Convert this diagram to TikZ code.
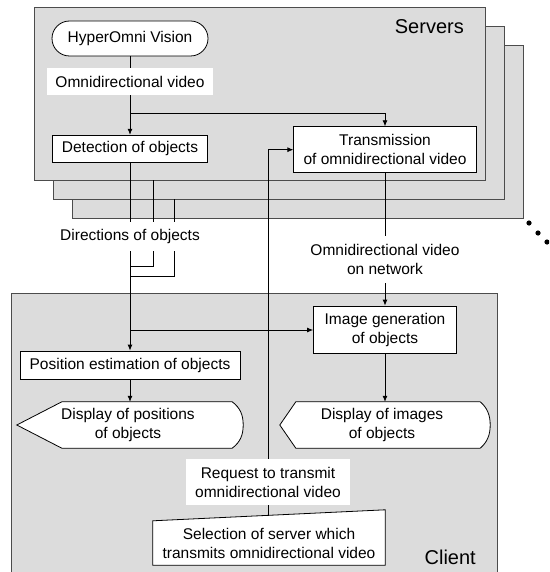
\documentclass[tikz,border=0pt]{standalone}
\usepackage{fontspec}
\setmainfont{Liberation Sans}
\usetikzlibrary{arrows.meta,calc}
\definecolor{boxgray}{RGB}{220,220,220}
\begin{document}
\begin{tikzpicture}[x=1pt,y=-1pt,
  font=\fontsize{15.5}{19}\selectfont,
  panel/.style={draw=black!70, line width=1pt, fill=boxgray},
  proc/.style={draw=black, line width=0.8pt, fill=white, inner sep=0pt, align=center},
  ghost/.style={inner sep=0pt, align=center},
  outline/.style={draw=black, line width=0.8pt, fill=white},
  lbl/.style={fill=white, inner sep=0pt, align=center},
  biglbl/.style={font=\fontsize{20}{24}\selectfont, inner sep=0pt, anchor=east},
  conn/.style={draw=black, line width=0.8pt},
  arr/.style={conn, -{Latex[length=6pt,width=5pt]}},
]
\clip (0,0) rectangle (549,572);

% panels
\path[panel] (72,46) rectangle (523,218);
\path[panel] (53,27) rectangle (504,199);
\path[panel] (34,8) rectangle (485,180);
\path[panel] (11,293) rectangle (497,600);

\node[biglbl] (servers) at (464,27) {Servers};
\node[biglbl] (client) at (476,557) {Client};

% nodes
\node[proc, rounded corners=17.5pt, minimum width=156pt, minimum height=35pt] (hov) at (130,38.5) {HyperOmni Vision};
\node[lbl, minimum width=166pt, minimum height=27pt] (ovl) at (130,81.5) {Omnidirectional video};
\node[proc, minimum width=155pt, minimum height=27pt] (det) at (130,148.7) {Detection of objects};
\node[proc, minimum width=182.5pt, minimum height=46pt] (trans) at (385,149.7) {Transmission\\of omnidirectional video};
\node[ghost, minimum width=150pt, minimum height=29pt] (dir) at (130,236.5) {Directions of objects};
\node[ghost, minimum width=170pt, minimum height=47pt] (ovn) at (385,259.5) {Omnidirectional video\\on network};
\node[proc, minimum width=143pt, minimum height=47pt] (img) at (385,329.5) {Image generation\\of objects};
\node[proc, minimum width=220pt, minimum height=28pt] (pos) at (130,365) {Position estimation of objects};

% display shapes
\node[ghost, minimum width=226pt, minimum height=46pt] (dpos) at (130,425) {};
\path[outline] (dpos.west) -- ($(dpos.north west)+(45,0)$) -- ($(dpos.north east)+(-11,0)$)
  .. controls ($(dpos.north east)+(-3,6)$) and ($(dpos.east)+(0,-10)$) .. (dpos.east)
  .. controls ($(dpos.east)+(0,10)$) and ($(dpos.south east)+(-3,-6)$) .. ($(dpos.south east)+(-11,0)$)
  -- ($(dpos.south west)+(45,0)$) -- cycle;
\node[ghost] at (128,425) {Display of positions\\of objects};

\node[ghost, minimum width=210pt, minimum height=46pt] (dimg) at (385,425) {};
\path[outline] (dimg.west) -- ($(dimg.north west)+(16,0)$) -- ($(dimg.north east)+(-10,0)$)
  .. controls ($(dimg.north east)+(-3,6)$) and ($(dimg.east)+(0,-10)$) .. (dimg.east)
  .. controls ($(dimg.east)+(0,10)$) and ($(dimg.south east)+(-3,-6)$) .. ($(dimg.south east)+(-10,0)$)
  -- ($(dimg.south west)+(16,0)$) -- cycle;
\node[ghost] at (382,425) {Display of images\\of objects};

% manual input
\node[ghost, minimum width=232pt, minimum height=44pt] (sel) at (269,543) {};
\path[outline] (sel.south west) -- (sel.north west) -- ($(sel.north east)+(0,-11)$) -- (sel.south east) -- cycle;
\node[ghost] at (269,543) {Selection of server which\\transmits omnidirectional video};

\node[lbl, minimum width=164pt, minimum height=46pt] (req) at (268,482) {Request to transmit\\omnidirectional video};

% helper coordinates
\coordinate (br1) at (130,113.3);
\coordinate (br2) at (130,330);
\coordinate (s2) at (153,180);
\coordinate (s3) at (174,199);
\coordinate (j2) at (130,266);
\coordinate (j3) at (130,276);
\coordinate (seltop) at (268,515.5);

% connectors
\draw[conn] (hov) -- (ovl);
\draw[arr] (ovl) -- (det);
\draw[arr] (br1) -| (trans.north);
\draw[conn] (det) -- (dir);
\draw[conn] (s2) -- (s2 |- dir.north);
\draw[conn] (s3) -- (s3 |- dir.north);
\draw[conn] (s2 |- dir.south) |- (j2);
\draw[conn] (s3 |- dir.south) |- (j3);
\draw[arr] (dir) -- (pos);
\draw[arr] (br2) -- (br2 -| img.west);
\draw[conn] (trans) -- (ovn);
\draw[arr] (ovn) -- (img);
\draw[arr] (pos) -- (dpos);
\draw[arr] (img) -- (dimg);
\draw[conn] (seltop) -- (req);
\draw[arr] (req) |- (trans.west);

% dots
\fill (529,223) circle (2.6pt);
\fill (538,233) circle (2.6pt);
\fill (547,242) circle (2.6pt);
\end{tikzpicture}
\end{document}
